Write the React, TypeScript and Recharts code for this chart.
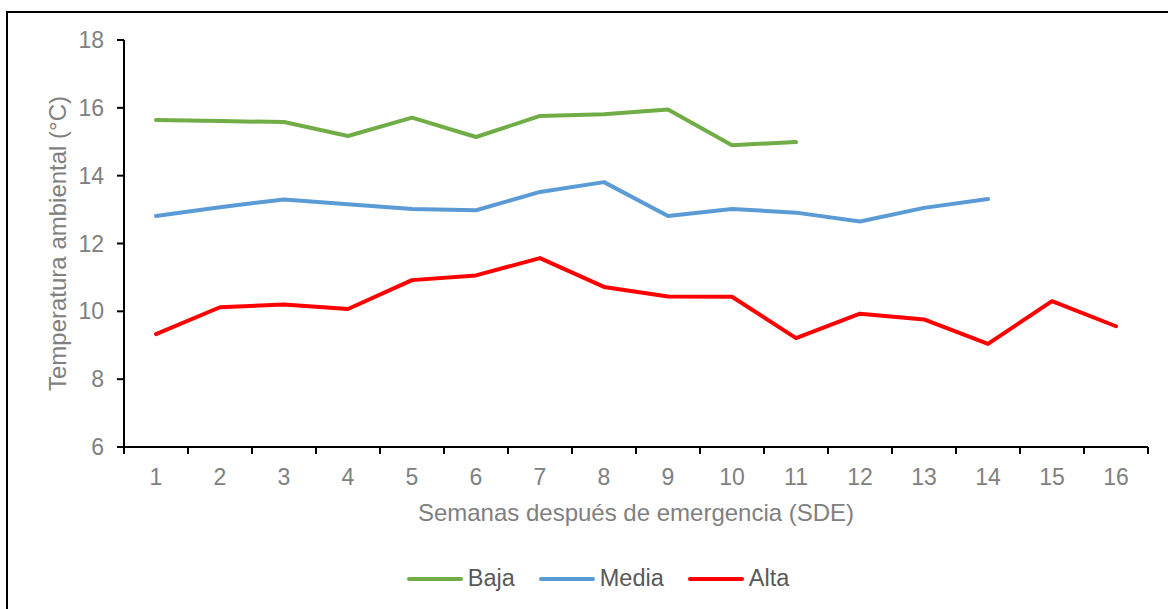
import { LineChart, Line, XAxis, YAxis } from "recharts";

const semanas = [1, 2, 3, 4, 5, 6, 7, 8, 9, 10, 11, 12, 13, 14, 15, 16];
const baja = [15.64, 15.61, 15.58, 15.17, 15.71, 15.14, 15.76, 15.81, 15.95, 14.9, 14.99];
const media = [12.81, 13.07, 13.3, 13.16, 13.02, 12.98, 13.52, 13.81, 12.81, 13.02, 12.91, 12.65, 13.05, 13.31];
const alta = [9.33, 10.12, 10.2, 10.07, 10.92, 11.06, 11.57, 10.72, 10.44, 10.43, 9.21, 9.93, 9.76, 9.04, 10.3, 9.56];
const yTicks = [6, 8, 10, 12, 14, 16, 18];
const bordes = [0.5, 1.5, 2.5, 3.5, 4.5, 5.5, 6.5, 7.5, 8.5, 9.5, 10.5, 11.5, 12.5, 13.5, 14.5, 15.5, 16.5];

const series = [
  { key: "baja", name: "Baja", color: "#70AD47" },
  { key: "media", name: "Media", color: "#5B9BD5" },
  { key: "alta", name: "Alta", color: "#FF0000" },
];

const data = semanas.map((s, i) => ({
  semana: s,
  baja: baja[i],
  media: media[i],
  alta: alta[i],
}));

const font = "'Liberation Sans', Arial, sans-serif";
const tickStyle = { fontSize: 23, fill: "#808080", fontFamily: font };

export default function App() {
  return (
    <div style={{ position: "fixed", left: 0, top: 0, width: 1168, height: 609, overflow: "hidden", background: "#fff" }}>
      <div
        style={{
          position: "absolute",
          left: 6,
          top: 11,
          width: 1180,
          height: 620,
          borderTop: "2px solid #000",
          borderLeft: "2px solid #000",
        }}
      />
      <div style={{ position: "absolute", left: 0, top: 0 }}>
        <LineChart width={1168} height={609} data={data} margin={{ top: 40, right: 20, bottom: 81, left: 0 }}>
          <XAxis
            xAxisId="bordes"
            dataKey="semana"
            type="number"
            domain={[0.5, 16.5]}
            ticks={bordes}
            height={1}
            tick={() => <g />}
            tickSize={7}
            stroke="#000"
            strokeWidth={2}
            axisLine
            tickLine
          />
          <XAxis
            xAxisId="sem"
            dataKey="semana"
            type="number"
            domain={[0.5, 16.5]}
            ticks={semanas}
            height={80}
            axisLine={false}
            tickLine={false}
            tickSize={7}
            tickMargin={14}
            tick={tickStyle}
            label={{
              value: "Semanas después de emergencia (SDE)",
              position: "insideTop",
              offset: 56,
              style: { fontSize: 24, fill: "#808080", fontFamily: font },
            }}
          />
          <YAxis
            type="number"
            domain={[6, 18]}
            ticks={yTicks}
            width={124}
            tickSize={7}
            tickMargin={13}
            tick={tickStyle}
            stroke="#000"
            strokeWidth={2}
            axisLine
            tickLine
            label={{
              value: "Temperatura ambiental (°C)",
              angle: -90,
              position: "center",
              dx: -5,
              style: { fontSize: 24, fill: "#808080", fontFamily: font, textAnchor: "middle" },
            }}
          />
          {series.map((s) => (
            <Line
              key={s.key}
              xAxisId="sem"
              dataKey={s.key}
              name={s.name}
              stroke={s.color}
              strokeWidth={4}
              strokeLinecap="round"
              strokeLinejoin="round"
              dot={false}
              activeDot={false}
              isAnimationActive={false}
            />
          ))}
        </LineChart>
      </div>
      <div
        style={{
          position: "absolute",
          left: 0,
          width: 1196,
          top: 565,
          display: "flex",
          justifyContent: "center",
          gap: 24,
          fontFamily: font,
          fontSize: 23.5,
          color: "#595959",
        }}
      >
        {series.map((s) => (
          <div key={s.key} style={{ display: "flex", alignItems: "center", gap: 5 }}>
            <svg width={56} height={8}>
              <line x1={2} y1={4} x2={54} y2={4} stroke={s.color} strokeWidth={4} strokeLinecap="round" />
            </svg>
            <span>{s.name}</span>
          </div>
        ))}
      </div>
    </div>
  );
}
